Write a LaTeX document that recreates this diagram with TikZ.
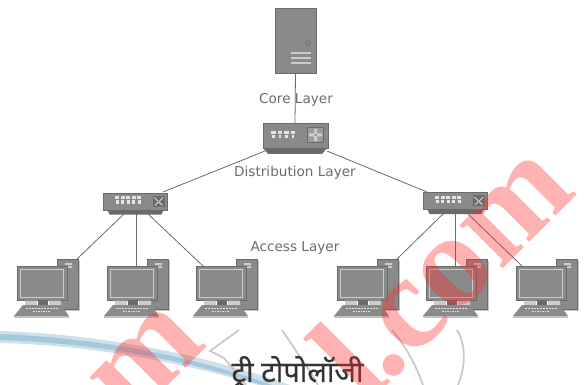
\documentclass[tikz,border=0pt]{standalone}
\usepackage{fontspec}
\setmainfont{DejaVu Sans}
\newfontfamily\hindi[Script=Devanagari,FakeBold=0.5]{Noto Sans}
\newfontfamily\wm{Liberation Serif}
\definecolor{dev}{HTML}{8A8A8A}
\definecolor{devd}{HTML}{6A6A6A}
\definecolor{devl}{HTML}{CCCCCC}
\definecolor{wmred}{HTML}{FF2A2A}
\definecolor{swoosh}{HTML}{8FBBD3}
\tikzset{
  x=1pt,y=-1pt,
  link/.style={draw=devd,line width=0.8pt},
  layer/.style={font=\fontsize{13.6}{15}\selectfont,text=black!58,inner sep=0pt},
  wmark/.style={font=\wm\bfseries\fontsize{133}{138}\selectfont,text=wmred,opacity=.36,inner sep=0pt,rotate=45,anchor=base west},
  arcline/.style={draw=black!22,line width=1.7pt},
  pics/pc/.style={code={
    \fill[black!22] (27,-24) rectangle (48,26);
    \fill[dev,draw=devd,line width=.5pt] (25,-26) rectangle (46,24);
    \fill[devl] (33,-22) rectangle (40,-20) (33,-19) rectangle (40,-17);
    \fill[dev,draw=devd,line width=.9pt] (-15,-19) rectangle (35,15);
    \draw[devl,line width=1pt,fill=dev] (-12,-16) rectangle (31,12);
    \fill[devd] (6,15) rectangle (16,20);
    \fill[devl] (-7,15.6) rectangle (5,20) (17,15.6) rectangle (29,20);
    \fill[black!22] (-18,31) rectangle (37,32.5);
    \fill[dev] (-9,20) -- (29,20) -- (37,31) -- (-18,31) -- cycle;
    \foreach \k in {-6,-3,...,24}{\fill[white,opacity=.75] (\k,22.5) rectangle +(1.9,1.6);}
    \foreach \k in {1,3.5,...,18}{\fill[white,opacity=.75] (\k,25.5) rectangle +(1.9,1.8);}
  }},
  pics/accsw/.style={code={
    \fill[devd] (-28,8.5) -- (28,8.5) -- (26,13) -- (-26,13) -- cycle;
    \fill[dev,draw=devd,line width=.6pt] (-32,-8.5) rectangle (32,8.5);
    \foreach \k in {-20.5,-15,-9.5,-4,1.5}{\fill[white!90!black] (\k,-5) rectangle +(4.4,3); \fill[white!90!black] (\k+.8,-1) rectangle +(2.8,3.2);}
    \fill[devd] (17.5,-5.5) rectangle (29,5);
    \fill[devl] (19,-4.5) -- (27.5,3.5) -- (26.5,4.2) -- (18.4,-3.6) -- cycle (27.5,-4.5) -- (19,3.5) -- (20,4.2) -- (28,-3.6) -- cycle;
  }},
  pics/coresw/.style={code={
    \fill[devd] (-32,12) -- (32,12) -- (27,18) -- (-27,18) -- cycle;
    \fill[dev,draw=devd,line width=.6pt] (-32,-13) rectangle (33,12);
    \foreach \k in {-24,-17.5,-11,-4.5}{\fill[white!90!black] (\k,-5) rectangle +(4.8,3); \fill[white!90!black] (\k+1,-1) rectangle +(2.8,3.2);}
    \fill[devd] (12,-9) rectangle (29,7);
    \fill[dev!85!white] (13,-8) rectangle (28,6);
    \fill[devl] (19,-7) rectangle (22,-2) (19,0) rectangle (22,5) (14,-2.5) rectangle (19,.5) (22,-2.5) rectangle (27,.5);
  }},
}
\begin{document}
\begin{tikzpicture}
\useasboundingbox (0,0) rectangle (584,385);
% blue swoosh and grey arcs
\fill[swoosh!45] (0,331) .. controls (90,334) and (190,350) .. (290,385) -- (258,385) .. controls (180,362) and (90,345) .. (0,343) -- cycle;
\fill[swoosh!80] (0,334) .. controls (90,338) and (180,352) .. (272,385) -- (262,385) .. controls (180,358) and (90,343) .. (0,340) -- cycle;
\draw[arcline] (239,330) -- (210,351) -- (224,358) -- (246,385);
\draw[arcline] (282,330) -- (313,376) -- (318,385);
\draw[arcline] (392,330) .. controls (405,345) and (416,365) .. (423,385);
\draw[arcline] (457,330) .. controls (466,345) and (466,365) .. (458,385);
% devices
\node[inner sep=0pt,minimum width=41pt,minimum height=65pt,fill=dev,draw=devd,line width=.6pt] (srv) at (295.5,40.5) {};
\draw[devd,line width=.7pt] (308,43) circle (2.4);
\foreach \yy in {52,57,62}{\fill[devl] (291,\yy) rectangle (311,\yy+1.8);}
% connector ends
\coordinate (cs) at (295,123);
\coordinate (cl) at (265,151);
\coordinate (cr) at (327,151);
\coordinate (dlt) at (163,192);
\coordinate (drt) at (427,192);
\coordinate (dl1) at (125,213);
\coordinate (dl2) at (136,213);
\coordinate (dl3) at (147,213);
\coordinate (dr1) at (444,213);
\coordinate (dr2) at (455,213);
\coordinate (dr3) at (467,213);
\coordinate (a1) at (77,259);
\coordinate (a2) at (136,266);
\coordinate (a3) at (203,266);
\coordinate (a4) at (397,259);
\coordinate (a5) at (455,267);
\coordinate (a6) at (522,266);
\draw[link] (srv.south) -- (cs);
\draw[link] (cl) -- (dlt);
\draw[link] (cr) -- (drt);
\draw[link] (dl1) -- (a1);
\draw[link] (dl2) -- (a2);
\draw[link] (dl3) -- (a3);
\draw[link] (dr1) -- (a4);
\draw[link] (dr2) -- (a5);
\draw[link] (dr3) -- (a6);
\pic at (295,136) {coresw};
\pic at (135.5,201.5) {accsw};
\pic at (455.5,201) {accsw};
\pic at (32,285) {pc};
\pic at (122,285) {pc};
\pic at (211,285) {pc};
\pic at (352,285) {pc};
\pic at (441,285) {pc};
\pic at (531,285) {pc};
% labels
\node[layer] (lc) at (296,99.5) {Core Layer};
\node[layer] (ld) at (295,173) {Distribution Layer};
\node[layer] (la) at (295,248) {Access Layer};
% caption
\node[inner sep=0pt,text=black!80] (cap) at (297.5,372) {\hindi\fontsize{29}{32}\selectfont ट्री टोपोलॉजी};
% watermark
\node[wmark] (w1) at (130,424) {m};
\node[wmark] (w2) at (366,407) {l};
\node[wmark] (w3) at (388,384) {.com};
\end{tikzpicture}
\end{document}
